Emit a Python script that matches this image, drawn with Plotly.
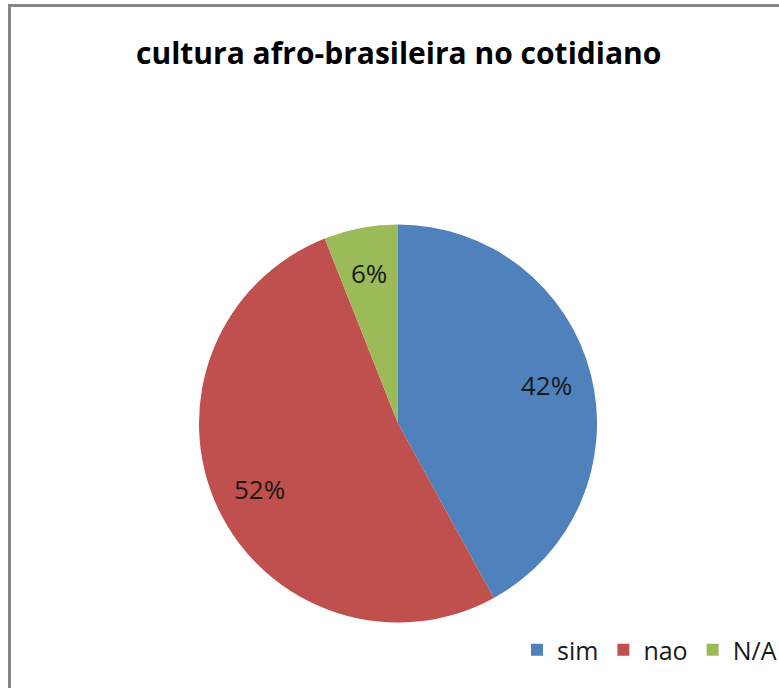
import math
import plotly.graph_objects as go

# Survey answers and their shares (percent)
categories = ["sim", "nao", "N/A"]
shares = [42, 52, 6]
slice_colors = ["#4F81BD", "#C0504D", "#9BBB59"]

W, H = 779, 688

# Pie placement in pixels (centre and radius)
CX, CY, R = 398, 423.5, 199
LABEL_RADIUS = 0.77  # fraction of R where the percentage labels sit

fig = go.Figure(
    go.Pie(
        labels=categories,
        values=shares,
        sort=False,
        direction="clockwise",
        rotation=0,
        marker=dict(colors=slice_colors, line=dict(width=0)),
        textinfo="none",
        hoverinfo="label+percent",
        domain=dict(x=[(CX - R) / W, (CX + R) / W],
                    y=[1 - (CY + R) / H, 1 - (CY - R) / H]),
    )
)

# Percentage labels placed along each slice's bisector
total = sum(shares)
annotations = []
start = 0.0
for cat, val in zip(categories, shares):
    frac = val / total
    mid = (start + frac / 2) * 2 * math.pi  # clockwise from 12 o'clock
    px = CX + LABEL_RADIUS * R * math.sin(mid)
    py = CY - LABEL_RADIUS * R * math.cos(mid)
    annotations.append(
        dict(
            text=f"{round(frac * 100)}%",
            x=px / W,
            y=1 - py / H,
            xref="paper",
            yref="paper",
            xanchor="center",
            yanchor="middle",
            showarrow=False,
            font=dict(family="Open Sans", size=26, color="#1a1a1a"),
        )
    )
    start += frac

annotations.append(
    dict(
        text="<b>cultura afro-brasileira no cotidiano</b>",
        x=398 / W,
        y=1 - 52 / H,
        xref="paper",
        yref="paper",
        xanchor="center",
        yanchor="middle",
        showarrow=False,
        font=dict(family="Open Sans", size=30, color="#000000"),
    )
)

fig.update_layout(
    width=W,
    height=H,
    margin=dict(l=0, r=0, t=0, b=0, autoexpand=False),
    paper_bgcolor="white",
    plot_bgcolor="white",
    showlegend=True,
    legend=dict(
        orientation="h",
        x=517 / W,
        xanchor="left",
        y=1 - 650 / H,
        yanchor="middle",
        font=dict(family="Open Sans", size=25, color="#1a1a1a"),
        bgcolor="rgba(0,0,0,0)",
        itemclick=False,
    ),
    annotations=annotations,
    shapes=[
        # chart frame (continues past the right and bottom edges)
        dict(
            type="rect",
            xref="paper",
            yref="paper",
            x0=9.5 / W,
            x1=1.2,
            y0=-0.2,
            y1=1 - 5.5 / H,
            line=dict(color="#868686", width=3),
            fillcolor="rgba(0,0,0,0)",
            layer="above",
        )
    ],
)

fig.write_html("out.html")
